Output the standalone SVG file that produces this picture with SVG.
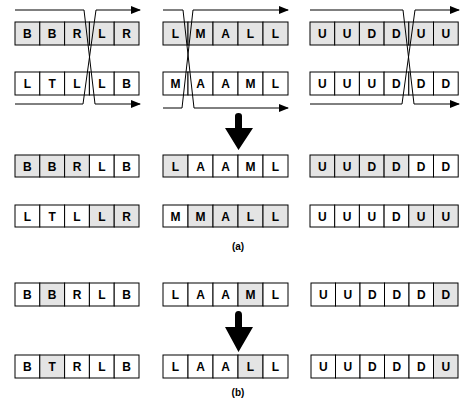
<svg xmlns="http://www.w3.org/2000/svg" width="462" height="405" viewBox="0 0 462 405">
<style>
.c{fill:#ffffff;stroke:#000;stroke-width:1}
.s{fill:#e4e4e4;stroke:#000;stroke-width:1}
.t{font-family:"Liberation Sans",Arial,sans-serif;font-weight:bold;font-size:12px;fill:#000;text-anchor:middle}
.lb{font-family:"Liberation Sans",Arial,sans-serif;font-weight:bold;font-size:10px;fill:#000;text-anchor:middle}
.ln{fill:none;stroke:#000;stroke-width:1}
</style>
<defs>
<marker id="ah" markerWidth="10" markerHeight="8" refX="9" refY="4" orient="auto" markerUnits="userSpaceOnUse">
<path d="M0,0 L10,4 L0,8 z" fill="#000"/>
</marker>
</defs>
<rect width="462" height="405" fill="#fff"/>

<!-- Row 1 parents (shaded) -->
<g id="p1-left">
<rect class="s" x="15" y="22" width="24.8" height="23"/><rect class="s" x="39.8" y="22" width="24.8" height="23"/><rect class="s" x="64.6" y="22" width="24.8" height="23"/><rect class="s" x="89.4" y="22" width="24.8" height="23"/><rect class="s" x="114.2" y="22" width="24.8" height="23"/>
<text class="t" x="27.4" y="38">B</text><text class="t" x="52.2" y="38">B</text><text class="t" x="77" y="38">R</text><text class="t" x="101.8" y="38">L</text><text class="t" x="126.6" y="38">R</text>
</g>
<g id="p1-mid">
<rect class="s" x="163" y="22" width="25" height="23"/><rect class="s" x="188" y="22" width="25" height="23"/><rect class="s" x="213" y="22" width="25" height="23"/><rect class="s" x="238" y="22" width="25" height="23"/><rect class="s" x="263" y="22" width="25" height="23"/>
<text class="t" x="175.5" y="38">L</text><text class="t" x="200.5" y="38">M</text><text class="t" x="225.5" y="38">A</text><text class="t" x="250.5" y="38">L</text><text class="t" x="275.5" y="38">L</text>
</g>
<g id="p1-right">
<rect class="s" x="310" y="22" width="24.7" height="23"/><rect class="s" x="334.7" y="22" width="24.7" height="23"/><rect class="s" x="359.4" y="22" width="24.7" height="23"/><rect class="s" x="384.1" y="22" width="24.7" height="23"/><rect class="s" x="408.8" y="22" width="24.7" height="23"/><rect class="s" x="433.5" y="22" width="24.7" height="23"/>
<text class="t" x="322.35" y="38">U</text><text class="t" x="347.05" y="38">U</text><text class="t" x="371.75" y="38">D</text><text class="t" x="396.45" y="38">D</text><text class="t" x="421.15" y="38">U</text><text class="t" x="445.85" y="38">U</text>
</g>

<!-- Row 2 parents (white) -->
<g id="p2-left">
<rect class="c" x="15" y="72" width="24.8" height="23"/><rect class="c" x="39.8" y="72" width="24.8" height="23"/><rect class="c" x="64.6" y="72" width="24.8" height="23"/><rect class="c" x="89.4" y="72" width="24.8" height="23"/><rect class="c" x="114.2" y="72" width="24.8" height="23"/>
<text class="t" x="27.4" y="88">L</text><text class="t" x="52.2" y="88">T</text><text class="t" x="77" y="88">L</text><text class="t" x="101.8" y="88">L</text><text class="t" x="126.6" y="88">B</text>
</g>
<g id="p2-mid">
<rect class="c" x="163" y="72" width="25" height="23"/><rect class="c" x="188" y="72" width="25" height="23"/><rect class="c" x="213" y="72" width="25" height="23"/><rect class="c" x="238" y="72" width="25" height="23"/><rect class="c" x="263" y="72" width="25" height="23"/>
<text class="t" x="175.5" y="88">M</text><text class="t" x="200.5" y="88">A</text><text class="t" x="225.5" y="88">A</text><text class="t" x="250.5" y="88">M</text><text class="t" x="275.5" y="88">L</text>
</g>
<g id="p2-right">
<rect class="c" x="310" y="72" width="24.7" height="23"/><rect class="c" x="334.7" y="72" width="24.7" height="23"/><rect class="c" x="359.4" y="72" width="24.7" height="23"/><rect class="c" x="384.1" y="72" width="24.7" height="23"/><rect class="c" x="408.8" y="72" width="24.7" height="23"/><rect class="c" x="433.5" y="72" width="24.7" height="23"/>
<text class="t" x="322.35" y="88">U</text><text class="t" x="347.05" y="88">U</text><text class="t" x="371.75" y="88">U</text><text class="t" x="396.45" y="88">D</text><text class="t" x="421.15" y="88">D</text><text class="t" x="445.85" y="88">D</text>
</g>

<!-- Row 3 offspring 1 -->
<g id="o1-left">
<rect class="s" x="15" y="155" width="24.8" height="22"/><rect class="s" x="39.8" y="155" width="24.8" height="22"/><rect class="s" x="64.6" y="155" width="24.8" height="22"/><rect class="c" x="89.4" y="155" width="24.8" height="22"/><rect class="c" x="114.2" y="155" width="24.8" height="22"/>
<text class="t" x="27.4" y="170.5">B</text><text class="t" x="52.2" y="170.5">B</text><text class="t" x="77" y="170.5">R</text><text class="t" x="101.8" y="170.5">L</text><text class="t" x="126.6" y="170.5">B</text>
</g>
<g id="o1-mid">
<rect class="s" x="163" y="155" width="25" height="22"/><rect class="c" x="188" y="155" width="25" height="22"/><rect class="c" x="213" y="155" width="25" height="22"/><rect class="c" x="238" y="155" width="25" height="22"/><rect class="c" x="263" y="155" width="25" height="22"/>
<text class="t" x="175.5" y="170.5">L</text><text class="t" x="200.5" y="170.5">A</text><text class="t" x="225.5" y="170.5">A</text><text class="t" x="250.5" y="170.5">M</text><text class="t" x="275.5" y="170.5">L</text>
</g>
<g id="o1-right">
<rect class="s" x="310" y="155" width="24.7" height="22"/><rect class="s" x="334.7" y="155" width="24.7" height="22"/><rect class="s" x="359.4" y="155" width="24.7" height="22"/><rect class="s" x="384.1" y="155" width="24.7" height="22"/><rect class="c" x="408.8" y="155" width="24.7" height="22"/><rect class="c" x="433.5" y="155" width="24.7" height="22"/>
<text class="t" x="322.35" y="170.5">U</text><text class="t" x="347.05" y="170.5">U</text><text class="t" x="371.75" y="170.5">D</text><text class="t" x="396.45" y="170.5">D</text><text class="t" x="421.15" y="170.5">D</text><text class="t" x="445.85" y="170.5">D</text>
</g>

<!-- Row 4 offspring 2 -->
<g id="o2-left">
<rect class="c" x="15" y="205" width="24.8" height="22"/><rect class="c" x="39.8" y="205" width="24.8" height="22"/><rect class="c" x="64.6" y="205" width="24.8" height="22"/><rect class="s" x="89.4" y="205" width="24.8" height="22"/><rect class="s" x="114.2" y="205" width="24.8" height="22"/>
<text class="t" x="27.4" y="220.5">L</text><text class="t" x="52.2" y="220.5">T</text><text class="t" x="77" y="220.5">L</text><text class="t" x="101.8" y="220.5">L</text><text class="t" x="126.6" y="220.5">R</text>
</g>
<g id="o2-mid">
<rect class="c" x="163" y="205" width="25" height="22"/><rect class="s" x="188" y="205" width="25" height="22"/><rect class="s" x="213" y="205" width="25" height="22"/><rect class="s" x="238" y="205" width="25" height="22"/><rect class="s" x="263" y="205" width="25" height="22"/>
<text class="t" x="175.5" y="220.5">M</text><text class="t" x="200.5" y="220.5">M</text><text class="t" x="225.5" y="220.5">A</text><text class="t" x="250.5" y="220.5">L</text><text class="t" x="275.5" y="220.5">L</text>
</g>
<g id="o2-right">
<rect class="c" x="310" y="205" width="24.7" height="22"/><rect class="c" x="334.7" y="205" width="24.7" height="22"/><rect class="c" x="359.4" y="205" width="24.7" height="22"/><rect class="c" x="384.1" y="205" width="24.7" height="22"/><rect class="s" x="408.8" y="205" width="24.7" height="22"/><rect class="s" x="433.5" y="205" width="24.7" height="22"/>
<text class="t" x="322.35" y="220.5">U</text><text class="t" x="347.05" y="220.5">U</text><text class="t" x="371.75" y="220.5">U</text><text class="t" x="396.45" y="220.5">D</text><text class="t" x="421.15" y="220.5">U</text><text class="t" x="445.85" y="220.5">U</text>
</g>

<text id="label-a" class="lb" x="238" y="250">(a)</text>

<!-- Row 5 before mutation -->
<g id="m1-left">
<rect class="c" x="15" y="283" width="24.8" height="23"/><rect class="s" x="39.8" y="283" width="24.8" height="23"/><rect class="c" x="64.6" y="283" width="24.8" height="23"/><rect class="c" x="89.4" y="283" width="24.8" height="23"/><rect class="c" x="114.2" y="283" width="24.8" height="23"/>
<text class="t" x="27.4" y="299">B</text><text class="t" x="52.2" y="299">B</text><text class="t" x="77" y="299">R</text><text class="t" x="101.8" y="299">L</text><text class="t" x="126.6" y="299">B</text>
</g>
<g id="m1-mid">
<rect class="c" x="163" y="283" width="25" height="23"/><rect class="c" x="188" y="283" width="25" height="23"/><rect class="c" x="213" y="283" width="25" height="23"/><rect class="s" x="238" y="283" width="25" height="23"/><rect class="c" x="263" y="283" width="25" height="23"/>
<text class="t" x="175.5" y="299">L</text><text class="t" x="200.5" y="299">A</text><text class="t" x="225.5" y="299">A</text><text class="t" x="250.5" y="299">M</text><text class="t" x="275.5" y="299">L</text>
</g>
<g id="m1-right">
<rect class="c" x="311" y="283" width="24.5" height="23"/><rect class="c" x="335.5" y="283" width="24.5" height="23"/><rect class="c" x="360" y="283" width="24.5" height="23"/><rect class="c" x="384.5" y="283" width="24.5" height="23"/><rect class="c" x="409" y="283" width="24.5" height="23"/><rect class="s" x="433.5" y="283" width="24.5" height="23"/>
<text class="t" x="323.25" y="299">U</text><text class="t" x="347.75" y="299">U</text><text class="t" x="372.25" y="299">D</text><text class="t" x="396.75" y="299">D</text><text class="t" x="421.25" y="299">D</text><text class="t" x="445.75" y="299">D</text>
</g>

<!-- Row 6 after mutation -->
<g id="m2-left">
<rect class="c" x="15" y="355" width="24.8" height="23"/><rect class="s" x="39.8" y="355" width="24.8" height="23"/><rect class="c" x="64.6" y="355" width="24.8" height="23"/><rect class="c" x="89.4" y="355" width="24.8" height="23"/><rect class="c" x="114.2" y="355" width="24.8" height="23"/>
<text class="t" x="27.4" y="371">B</text><text class="t" x="52.2" y="371">T</text><text class="t" x="77" y="371">R</text><text class="t" x="101.8" y="371">L</text><text class="t" x="126.6" y="371">B</text>
</g>
<g id="m2-mid">
<rect class="c" x="163" y="355" width="25" height="23"/><rect class="c" x="188" y="355" width="25" height="23"/><rect class="c" x="213" y="355" width="25" height="23"/><rect class="s" x="238" y="355" width="25" height="23"/><rect class="c" x="263" y="355" width="25" height="23"/>
<text class="t" x="175.5" y="371">L</text><text class="t" x="200.5" y="371">A</text><text class="t" x="225.5" y="371">A</text><text class="t" x="250.5" y="371">L</text><text class="t" x="275.5" y="371">L</text>
</g>
<g id="m2-right">
<rect class="c" x="311" y="355" width="24.5" height="23"/><rect class="c" x="335.5" y="355" width="24.5" height="23"/><rect class="c" x="360" y="355" width="24.5" height="23"/><rect class="c" x="384.5" y="355" width="24.5" height="23"/><rect class="c" x="409" y="355" width="24.5" height="23"/><rect class="s" x="433.5" y="355" width="24.5" height="23"/>
<text class="t" x="323.25" y="371">U</text><text class="t" x="347.75" y="371">U</text><text class="t" x="372.25" y="371">D</text><text class="t" x="396.75" y="371">D</text><text class="t" x="421.25" y="371">D</text><text class="t" x="445.75" y="371">U</text>
</g>

<text id="label-b" class="lb" x="238" y="396">(b)</text>

<!-- connectors -->
<g id="connectors">
<polyline class="ln" points="15,10 84,10 95,104 140,104" marker-end="url(#ah)"/>
<polyline class="ln" points="15,104 83,104 96,10 140,10" marker-end="url(#ah)"/>
<polyline class="ln" points="163,10 183,10 194,108 288,108" marker-end="url(#ah)"/>
<polyline class="ln" points="163,108 182,108 193,10 288,10" marker-end="url(#ah)"/>
<polyline class="ln" points="310,10 403,10 414,104 459,104" marker-end="url(#ah)"/>
<polyline class="ln" points="310,104 402,104 415,10 459,10" marker-end="url(#ah)"/>
<path d="M235,116 Q235,113 238.5,113 Q242,113 242,116 L242,128 L253,128 L238.5,150 L225,128 L235,128 Z" fill="#000"/>
<path d="M235,315 Q235,311 238.5,311 Q242,311 242,315 L242,327 L253,327 L238.5,352 L225,327 L235,327 Z" fill="#000"/>
</g>
</svg>
